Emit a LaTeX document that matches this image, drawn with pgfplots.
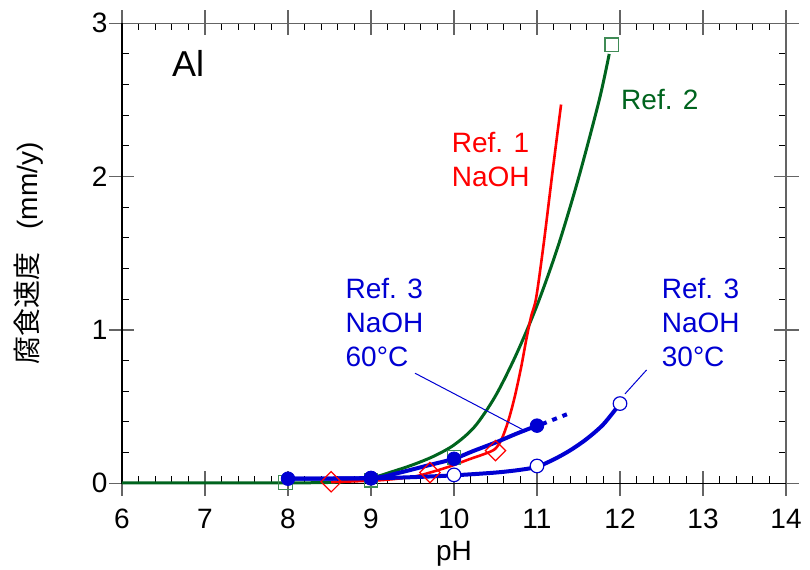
\documentclass[border=0pt]{standalone}
\usepackage{pgfplots}
\pgfplotsset{compat=1.18}
\usepackage{fontspec}
\setmainfont{Liberation Sans}
\newfontfamily\cjk{Noto Sans CJK JP}
\definecolor{cblue}{RGB}{0,0,210}
\definecolor{cred}{RGB}{255,0,0}
\definecolor{cgreen}{RGB}{0,100,30}
\definecolor{tickgray}{RGB}{100,100,100}
\begin{document}
\begin{tikzpicture}
\begin{axis}[
  scale only axis, width=332pt, height=230pt,
  xmin=6, xmax=14, ymin=0, ymax=3,
  xtick={6,7,8,9,10,11,12,13,14}, ytick={0,1,2,3},
  minor x tick num=4, minor y tick num=4,
  tick align=inside, major tick length=6pt, minor tick length=3.5pt,
  major tick style={tickgray, line width=0.6pt},
  minor tick style={black, line width=0.5pt},
  axis line style={tickgray, line width=0.6pt},
  clip=false,
  /pgf/number format/assume math mode=true,
  tick label style={font=\fontsize{14}{17}\selectfont, black},
  xticklabel style={yshift=-9.5pt},
  yticklabel style={xshift=-3.8pt},
  xlabel={pH},
  xlabel style={font=\fontsize{14}{17}\selectfont, at={([yshift=-38.5pt]axis description cs:0.5,0)}, anchor=base},
  ylabel={{\cjk 腐食速度}\hspace{0.8em}(mm/y)},
  ylabel style={font=\fontsize{14}{17}\selectfont, at={([xshift=-46.8pt]axis description cs:0,0.5)}, anchor=center},
]
% outer parts of major ticks
\pgfplotsinvokeforeach{6,7,8,9,10,11,12,13,14}{
  \draw[tickgray, line width=0.6pt] (axis cs:#1,0) -- ++(0pt,-6.5pt);
  \draw[tickgray, line width=0.6pt] (axis cs:#1,3) -- ++(0pt,6.5pt);
}
\pgfplotsinvokeforeach{0,1,2,3}{
  \draw[tickgray, line width=0.6pt] (axis cs:6,#1) -- ++(-6.5pt,0pt);
  \draw[tickgray, line width=0.6pt] (axis cs:14,#1) -- ++(6.5pt,0pt);
}
\draw[black, line width=0.7pt] (rel axis cs:0,1) -- (rel axis cs:0,0) -- (rel axis cs:1,0);

% Ref. 2 squares
\addplot[only marks, mark=square, mark size=3.4pt, mark options={draw=cgreen!75!white, fill=white, line width=0.6pt}]
  coordinates {(7.97,0.005) (9,0.02) (10,0.17) (11.9,2.86)};
% Ref. 2 curve
\addplot[cgreen, line width=1.5pt, smooth] coordinates {
  (6,0.003) (8,0.003) (8.6,0.008) (9.0,0.035) (9.25,0.075) (9.5,0.12) (9.75,0.175)
  (10.0,0.25) (10.25,0.37) (10.5,0.57) (10.75,0.84) (11.0,1.16) (11.25,1.54)
  (11.5,1.99) (11.75,2.50) (11.87,2.80)};
% Ref. 1 curve
\addplot[cred, line width=1.3pt, smooth] coordinates {
  (8.52,0.008) (9.11,0.02) (9.51,0.043) (9.71,0.07) (9.95,0.11) (10.19,0.158)
  (10.37,0.192) (10.49,0.222) (10.57,0.283) (10.65,0.40) (10.73,0.56)
  (10.81,0.76) (10.87,0.935) (10.93,1.09) (10.99,1.21) (11.08,1.56) (11.18,2.0)
  (11.29,2.47)};
% Ref. 3 60C
\addplot[cblue, line width=2pt, smooth] coordinates {
  (8,0.03) (9,0.035) (9.31,0.065) (9.71,0.12) (10,0.16) (10.23,0.21)
  (10.51,0.268) (10.75,0.323) (11,0.376)};
\addplot[cblue, line width=2pt, dash pattern=on 2.5pt off 3pt] coordinates {
  (11.06,0.386) (11.36,0.45)};
% Ref. 3 30C
\addplot[cblue, line width=2pt, smooth] coordinates {
  (8,0.03) (9,0.033) (9.5,0.04) (10,0.052) (10.5,0.07) (10.8,0.088) (11,0.108)
  (11.2,0.155) (11.4,0.215) (11.6,0.29) (11.8,0.385) (12,0.52)};
% leader lines
\addplot[cblue, line width=0.5pt] coordinates {(9.53,0.718) (10.835,0.348)};
\addplot[cblue, line width=0.5pt] coordinates {(12.32,0.739) (12.06,0.583)};
% Ref. 1 diamonds
\addplot[only marks, mark=square, mark size=3.6pt, mark options={rotate=45, draw=cred, fill=white, line width=0.6pt}]
  coordinates {(8.52,0.01) (9.71,0.07) (10.5,0.213)};
% Ref. 3 30C open circles
\addplot[only marks, mark=*, mark size=3.4pt, mark options={draw=cblue, fill=white, line width=0.6pt}]
  coordinates {(9,0.033) (10,0.055) (11,0.113) (12,0.52)};
% Ref. 3 60C filled circles
\addplot[only marks, mark=*, mark size=3.4pt, mark options={draw=cblue, fill=cblue}]
  coordinates {(8,0.03) (9,0.035) (10,0.16) (11,0.376)};

% annotations
\node[anchor=north west, inner sep=0pt, font=\fontsize{18}{21}\selectfont] at (axis cs:6.6,2.826) {Al};
\node[anchor=north west, inner sep=0pt, align=left, text=cred, font=\fontsize{14}{17}\selectfont] at (axis cs:9.97,2.293) {Ref. 1\\NaOH};
\node[anchor=north west, inner sep=0pt, align=left, text=cgreen, font=\fontsize{14}{17}\selectfont] at (axis cs:12.01,2.57) {Ref. 2};
\node[anchor=north west, inner sep=0pt, align=left, text=cblue, font=\fontsize{14}{17}\selectfont] at (axis cs:8.69,1.337) {Ref. 3\\NaOH\\60°C};
\node[anchor=north west, inner sep=0pt, align=left, text=cblue, font=\fontsize{14}{17}\selectfont] at (axis cs:12.5,1.337) {Ref. 3\\NaOH\\30°C};
\end{axis}
\pgfresetboundingbox
\path[use as bounding box] ([shift={(-61pt,-43.35pt)}]current axis.south west) rectangle ([shift={(12pt,11.65pt)}]current axis.north east);
\end{tikzpicture}
\end{document}
